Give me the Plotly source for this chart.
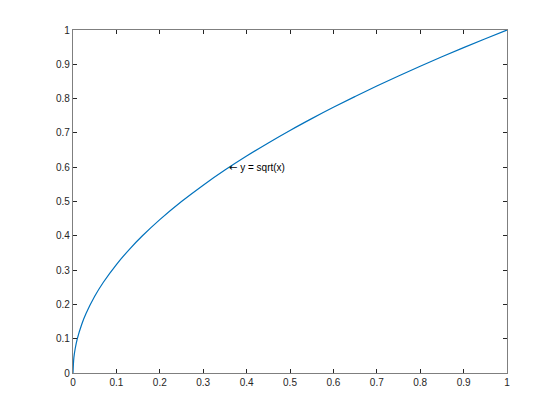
import plotly.graph_objects as go

# points
x_vals = [0, 0.002, 0.005, 0.01, 0.02, 0.03, 0.05, 0.07, 0.1, 0.13, 0.16, 0.2, 0.25,
          0.3, 0.35, 0.4, 0.45, 0.5, 0.55, 0.6, 0.65, 0.7, 0.75, 0.8, 0.85, 0.9, 0.95, 1.0]
y_vals = [0, 0.0447, 0.0707, 0.1, 0.1414, 0.1732, 0.2236, 0.2646, 0.3162, 0.3606, 0.4,
          0.4472, 0.5, 0.5477, 0.5916, 0.6325, 0.6708, 0.7071, 0.7416, 0.7746, 0.8062,
          0.8367, 0.866, 0.8944, 0.922, 0.9487, 0.9747, 1.0]

tick_vals = [0, 0.1, 0.2, 0.3, 0.4, 0.5, 0.6, 0.7, 0.8, 0.9, 1]
tick_text = ["0", "0.1", "0.2", "0.3", "0.4", "0.5", "0.6", "0.7", "0.8", "0.9", "1"]

label_x, label_y = 0.36, 0.6
label_text = "<span style='font-family:DejaVu Sans'>\u2190</span> y = sqrt(x)"

fig = go.Figure()
fig.add_trace(go.Scatter(
    x=x_vals, y=y_vals, mode="lines",
    line=dict(color="#0072BD", width=1.2, shape="spline"),
    showlegend=False, hoverinfo="skip"
))

fig.add_annotation(
    x=label_x, y=label_y, text=label_text, showarrow=False,
    xanchor="left", yanchor="middle", xshift=-2,
    font=dict(family="Liberation Sans, Arial", size=10, color="#000000")
)

axis_style = dict(
    range=[0, 1], tickvals=tick_vals, ticktext=tick_text,
    showgrid=False, zeroline=False,
    showline=True, linecolor="#7f7f7f", linewidth=1.3,
    mirror="ticks", ticks="inside", ticklen=4, tickcolor="#262626", tickwidth=1,
    tickfont=dict(family="Liberation Sans, Arial", size=10, color="#262626"),
)

# page body adds an 8px offset, margins account for it
fig.update_layout(
    width=560, height=420,
    margin=dict(l=65, r=61, t=22, b=55),
    plot_bgcolor="white", paper_bgcolor="white",
    xaxis=axis_style, yaxis=axis_style,
)

fig.write_html("out.html")
